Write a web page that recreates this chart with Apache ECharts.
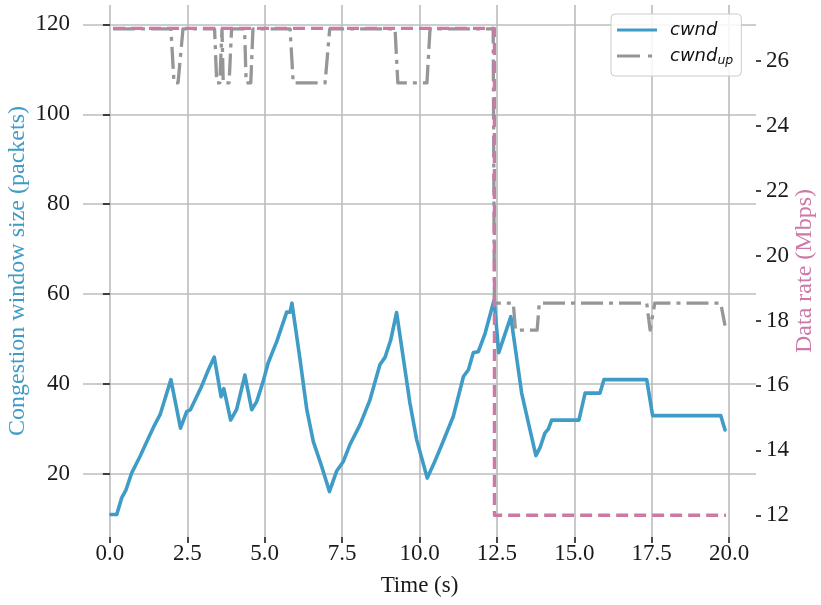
<!DOCTYPE html>
<html>
<head>
<meta charset="utf-8">
<script src="https://cdn.jsdelivr.net/npm/echarts@6/dist/echarts.min.js"></script>
<style>
  html, body { margin: 0; padding: 0; background: #ffffff; }
  #chart { width: 821px; height: 605px; }
</style>
</head>
<body>
<div id="chart"></div>
<script>
// Congestion window trace (packets)
const timeCwnd = [0.03, 0.22, 0.38, 0.52, 0.70, 0.86, 0.97, 1.13, 1.29, 1.45, 1.62, 1.97, 2.28, 2.48, 2.60, 2.80, 2.96, 3.18, 3.37, 3.59, 3.68, 3.90, 4.09, 4.36, 4.58, 4.74, 4.95, 5.11, 5.39, 5.71, 5.82, 5.88, 6.14, 6.36, 6.57, 6.84, 7.09, 7.32, 7.54, 7.75, 8.08, 8.40, 8.72, 8.89, 9.07, 9.26, 9.69, 9.91, 10.25, 10.45, 10.72, 11.09, 11.42, 11.58, 11.74, 11.90, 12.12, 12.41, 12.56, 12.95, 13.30, 13.52, 13.76, 13.89, 14.05, 14.16, 14.27, 15.15, 15.35, 15.83, 15.96, 17.34, 17.53, 19.73, 19.87];
const cwnd = [11, 11, 14.7, 16.5, 20.2, 22.4, 23.9, 26.3, 28.7, 31, 33.2, 41, 30.2, 33.9, 34.3, 37.2, 39.5, 43.2, 46, 37.2, 39, 32, 34.3, 42, 34.3, 36.1, 40.6, 44.7, 49.5, 56, 56, 58, 45.5, 34.3, 27.2, 21.7, 16.1, 20.6, 22.8, 26.5, 31, 36.5, 44.3, 46, 49.8, 55.9, 35.8, 27.6, 19.1, 22.1, 26.5, 32.8, 41.7, 43.2, 47, 47.2, 51.3, 58.7, 47, 55, 38, 31.3, 24.1, 25.8, 29.1, 30, 32, 32, 38, 38, 41, 41, 33, 33, 29.8];

// Upper bound of the congestion window (packets)
const timeUp = [0.10, 1.97, 2.07, 2.20, 2.36, 3.38, 3.45, 3.55, 3.62, 3.66, 3.85, 3.93, 4.35, 4.40, 4.55, 4.62, 5.82, 5.92, 6.95, 7.10, 9.21, 9.30, 10.24, 10.34, 12.38, 12.42, 13.03, 13.10, 13.80, 13.87, 17.34, 17.45, 17.50, 17.60, 19.73, 19.87];
const cwndUp = [119, 119, 107, 107, 119, 119, 107, 107, 119, 107, 107, 119, 119, 107, 107, 119, 119, 107, 107, 119, 119, 107, 107, 119, 119, 58, 58, 52, 52, 58, 58, 52, 52, 58, 58, 53];

// Link data rate (Mbps)
const timeRate = [0.10, 12.42, 12.42, 19.90];
const rate = [27, 27, 12, 12];

// Tick values
const xTicks = [0, 2.5, 5, 7.5, 10, 12.5, 15, 17.5, 20];
const leftTicks = [20, 40, 60, 80, 100, 120];
const rightTicks = [12, 14, 16, 18, 20, 22, 24, 26];

const BLUE = '#3f9cc6';
const GRAY = '#969696';
const PINK = '#cc79a7';
const SERIF = '"Liberation Serif", "Times New Roman", serif';
const INK = '#1a1a1a';

const zip = (xs, ys) => xs.map((x, i) => [x, ys[i]]);

const chart = echarts.init(document.getElementById('chart'), null, { renderer: 'canvas' });

chart.setOption({
  animation: false,
  backgroundColor: '#ffffff',
  grid: { left: 83, right: 65, top: 5, bottom: 68, containLabel: false, outerBoundsMode: 'none' },
  legend: {
    // legend keys: a solid stroke and a dash-dot stroke, 40px wide
    data: [
      { name: 'cwnd', icon: 'path://M0,0H40V3H0Z' },
      { name: 'cwnd_up', icon: 'path://M0,0H23V3H0ZM31,0H35V3H31ZM40,3Z' }
    ],
    orient: 'vertical',
    left: 611,
    top: 14,
    padding: [7, 8, 9, 6],
    itemWidth: 40,
    itemHeight: 3.2,
    itemGap: 8,
    itemStyle: { borderWidth: 0 },
    borderColor: '#cccccc',
    borderWidth: 1,
    borderRadius: 4,
    backgroundColor: 'rgba(255,255,255,0.85)',
    formatter: name => name === 'cwnd_up' ? '{m|cwnd}{s|up}' : '{m|cwnd}',
    textStyle: {
      padding: [0, 0, 0, 8],
      rich: {
        m: { fontFamily: '"DejaVu Sans", sans-serif', fontStyle: 'italic', fontSize: 18, lineHeight: 22, color: '#111' },
        s: { fontFamily: '"DejaVu Sans", sans-serif', fontStyle: 'italic', fontSize: 12.5, lineHeight: 8, verticalAlign: 'bottom', color: '#111' }
      }
    }
  },
  xAxis: [{
    type: 'value',
    min: -0.87,
    max: 20.87,
    name: 'Time (s)',
    nameLocation: 'middle',
    nameGap: 37,
    nameMoveOverlap: false,
    nameTextStyle: { fontFamily: SERIF, fontSize: 23, color: INK },
    axisLine: { show: false },
    axisTick: { show: true, length: 6, customValues: xTicks, lineStyle: { color: INK, width: 1.6 } },
    axisLabel: { customValues: xTicks, margin: 5, fontFamily: SERIF, fontSize: 23, color: INK, formatter: v => v.toFixed(1) },
    splitLine: { show: true, customValues: xTicks, lineStyle: { color: '#bcbcbc', width: 1.6 } }
  }],
  yAxis: [{
    type: 'value',
    position: 'left',
    min: 6.0,
    max: 124.3,
    name: 'Congestion window size (packets)',
    nameLocation: 'middle',
    nameGap: 53,
    nameMoveOverlap: false,
    nameTextStyle: { fontFamily: SERIF, fontSize: 24, color: BLUE },
    axisLine: { show: false },
    axisTick: { show: true, length: 7, customValues: leftTicks, lineStyle: { color: INK, width: 1.6 } },
    axisLabel: { customValues: leftTicks, margin: 13, fontFamily: SERIF, fontSize: 23, color: INK },
    splitLine: { show: true, customValues: leftTicks, lineStyle: { color: '#bcbcbc', width: 1.6 } }
  }, {
    type: 'value',
    position: 'right',
    min: 11.33,
    max: 27.72,
    name: 'Data rate (Mbps)',
    nameLocation: 'middle',
    nameGap: 37,
    nameMoveOverlap: false,
    nameTextStyle: { fontFamily: SERIF, fontSize: 24, color: PINK },
    axisLine: { show: false },
    axisTick: { show: true, length: 5, customValues: rightTicks, lineStyle: { color: INK, width: 1.6 } },
    axisLabel: { customValues: rightTicks, margin: 10, fontFamily: SERIF, fontSize: 23, color: INK },
    splitLine: { show: false }
  }],
  series: [{
    name: 'cwnd',
    type: 'line',
    xAxisIndex: 0,
    yAxisIndex: 0,
    data: zip(timeCwnd, cwnd),
    symbol: 'none',
    z: 2,
    lineStyle: { color: BLUE, width: 3.6, join: 'round', cap: 'round' },
    itemStyle: { color: BLUE }
  }, {
    name: 'cwnd_up',
    type: 'line',
    xAxisIndex: 0,
    yAxisIndex: 0,
    data: zip(timeUp, cwndUp),
    symbol: 'none',
    z: 3,
    lineStyle: { color: GRAY, width: 3.3, type: [22, 6, 4, 6], join: 'round', cap: 'butt' },
    itemStyle: { color: GRAY }
  }, {
    name: 'rate',
    type: 'line',
    xAxisIndex: 0,
    yAxisIndex: 1,
    data: zip(timeRate, rate),
    symbol: 'none',
    z: 4,
    lineStyle: { color: PINK, width: 3.3, type: [12, 6], join: 'round', cap: 'butt' },
    itemStyle: { color: PINK }
  }]
});
</script>
</body>
</html>
